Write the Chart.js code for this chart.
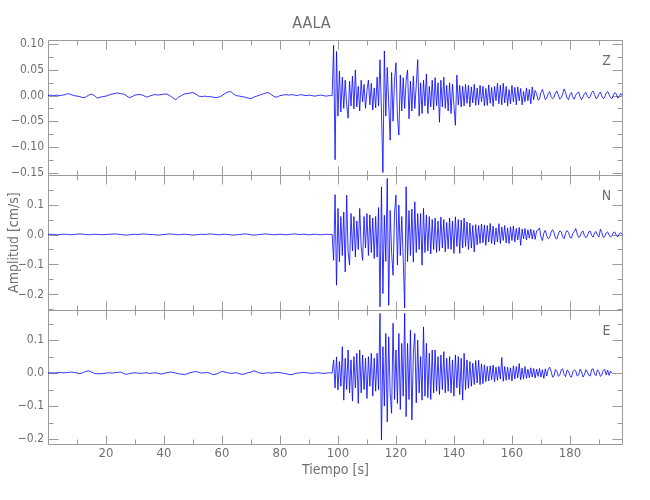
<!DOCTYPE html>
<html>
<head>
<meta charset="utf-8">
<title>AALA</title>
<script src="https://cdn.jsdelivr.net/npm/chart.js"></script>
<style>
  html, body { margin: 0; padding: 0; background: #fff; }
</style>
</head>
<body>
<canvas id="sismo" width="650" height="500"></canvas>
<script>
const FONT = "'Liberation Sans Narrow', 'DejaVu Sans Condensed', 'Liberation Sans', sans-serif";
const textColor = '#6f6f6f';
const axisColor = '#9b9b9b';

// amplitudes are stored in counts of 0.001 cm/s
const UNIT = 0.001;
// quiet part sampled every 1 s from 0 s, event part every 0.5 s from 98 s
const PRE_T0 = 0, PRE_DT = 1;
const EV_T0 = 98, EV_DT = 0.5;

const zPre = [0,1,0,1,0,1,2,4,2,0,
  -1,-2,-4,-3,1,3,0,-5,-3,-2,
  -1,1,3,4,5,4,3,0,-4,-2,
  1,2,2,0,-3,-1,1,2,1,2,
  3,3,0,-4,-8,-3,0,3,4,5,
  6,3,-1,-2,-1,-2,-2,-3,-4,-3,
  0,4,7,8,3,0,-1,-2,-3,-5,
  -6,-3,-1,1,3,5,6,2,-2,-3,
  0,1,2,1,2,1,0,2,1,0,
  1,0,-1,0,1,0,-1,0];
const zEvent = [0,98,-125,86,-40,48,-32,36,-25,30,
  -18,-44,28,-20,38,-26,50,-22,18,-30,
  30,-12,22,-25,10,30,-18,24,-28,15,
  -24,36,-20,70,-30,-150,87,-40,55,-15,
  -87,45,-50,30,64,-40,-77,40,-30,35,
  -25,30,50,-45,28,-30,38,-25,20,70,
  -40,25,-35,30,-20,42,-35,18,-22,30,
  -28,35,-20,25,-52,30,-22,36,-25,20,
  -30,25,-35,22,-20,-58,40,-18,20,-22,
  18,-20,22,-15,20,-22,17,-14,22,-19,
  15,-18,20,-12,18,-20,14,-19,21,-15,
  16,-21,18,-10,24,-16,20,-18,24,-14,
  18,-20,12,-16,20,-12,16,-18,17,-10,
  14,-18,8,-12,15,-10,12,-16,17,-8,
  10,4,-9,-7,6,12,3,-8,-5,4,
  8,-2,-6,-3,5,9,1,-7,-4,3,
  13,6,-5,-8,2,6,-3,-7,1,5,
  7,-2,-8,-3,4,6,-1,-5,-2,6,
  9,2,-6,-4,3,7,-1,-6,-3,5,
  8,2,-4,-6,1,6,3,-5,-2,4,
  0];

const nPre = [0,1,0,-1,0,1,1,0,-1,0,
  1,2,1,0,-1,0,1,0,0,-1,
  0,1,1,2,1,0,-1,-2,-1,0,
  1,0,1,2,1,0,0,-1,-2,-1,
  0,1,2,1,0,-1,0,1,0,-1,
  -2,-1,0,1,0,1,2,1,0,-1,
  0,1,0,-1,-2,-1,0,1,2,1,
  -1,-2,-1,0,1,2,1,0,-1,0,
  1,0,-1,0,1,2,1,0,1,0,
  -1,0,1,0,-1,0,1,0];
const nEvent = [0,-86,133,-169,87,-91,60,-70,75,-125,
  131,-60,-102,70,-55,60,-75,45,-50,87,
  -40,-86,60,-45,70,-70,65,-60,55,-80,
  60,-75,90,-241,159,-197,64,-90,187,-236,
  80,-60,-136,70,131,-102,98,-70,60,-80,
  -245,159,-90,80,-70,85,-92,109,-60,70,
  -50,70,-102,87,-60,65,-55,60,-65,50,
  -50,55,-60,45,-55,58,-45,50,-58,40,
  -48,55,-50,45,-63,59,-40,50,-63,48,
  -45,55,-40,42,-50,38,-45,30,-58,33,
  -35,30,-30,35,-28,32,-36,30,-25,37,
  -30,28,-34,22,-25,36,-30,25,-20,30,
  -28,22,-30,26,-20,28,-25,20,-18,24,
  -36,18,-15,20,-18,16,-12,18,-15,14,
  -16,12,15,22,-8,-20,5,14,-4,-14,
  -10,8,16,6,-12,-15,2,12,9,-8,
  -14,4,13,7,-9,-12,3,10,20,2,
  -10,-6,8,12,-4,-11,-5,9,11,-3,
  -9,6,10,-2,-8,18,6,-10,-7,5,
  9,-2,-9,-4,7,8,-3,-8,1,6,
  0];

const ePre = [0,1,0,1,2,1,1,2,3,2,
  0,-2,1,5,7,3,-1,-2,-2,-1,
  0,1,0,1,2,3,-1,-4,-2,0,
  1,0,-1,0,1,-1,0,1,-1,-3,
  -1,1,3,2,0,-2,-3,-5,-2,1,
  3,5,2,0,1,2,-1,-5,-3,1,
  5,3,1,-1,0,1,-2,-4,-2,1,
  3,7,4,0,-1,0,1,0,1,2,
  1,0,-2,-4,-5,-2,0,1,2,1,
  0,-1,0,1,0,-1,0,1];
const eEvent = [0,40,-45,49,-51,35,-40,80,-82,45,
  -50,70,-60,40,-85,50,-45,60,-92,70,
  -60,55,-50,45,-77,50,-40,60,-70,45,
  -55,60,-50,181,-203,80,-100,120,-148,110,
  -60,-122,151,-80,70,-92,120,-110,90,-70,
  181,-132,90,-80,130,-142,60,120,-90,100,
  -60,50,-82,140,-70,90,-75,60,-80,70,
  -60,70,-55,50,-65,55,-50,65,-60,45,
  -55,50,-60,40,-70,55,-45,50,-65,45,
  -82,60,-50,40,-46,35,-40,30,-35,38,
  -30,39,-35,28,-32,25,-26,20,-24,22,
  -20,24,-26,18,-22,20,-18,47,-25,20,
  -22,18,-20,16,-24,22,-18,20,-15,29,
  -20,15,-18,20,-16,12,-14,16,-12,14,
  -15,12,-10,14,-12,10,-16,13,-9,11,
  18,6,-12,-9,11,5,-10,-6,10,13,
  -4,-11,9,6,-8,-13,4,10,7,-9,
  -6,12,4,-12,-5,10,3,-7,-9,11,
  13,-3,-8,10,4,-10,-6,8,11,-6,
  9,-7,6,0];

const xTicks = [20, 40, 60, 80, 100, 120, 140, 160, 180];
const zTicks = [0.10, 0.05, 0.00, -0.05, -0.10, -0.15];
const nTicks = [0.1, 0.0, -0.1, -0.2];
const eTicks = [0.1, 0.0, -0.1, -0.2];

const X_MIN = 0, X_MAX = 198.3;
const X_MAJOR = 20, X_MINOR = 10;

const panels = [
  { id: 'z', label: 'Z', pre: zPre, ev: zEvent, min: -0.155, max: 0.108, ticks: zTicks, minor: 0.025, digits: 2 },
  { id: 'n', label: 'N', pre: nPre, ev: nEvent, min: -0.252, max: 0.198, ticks: nTicks, minor: 0.05, digits: 1 },
  { id: 'e', label: 'E', pre: ePre, ev: eEvent, min: -0.218, max: 0.191, ticks: eTicks, minor: 0.05, digits: 1 }
];

function toPoints(pre, ev) {
  const a = pre.map((v, i) => ({ x: PRE_T0 + i * PRE_DT, y: v * UNIT }));
  const b = ev.map((v, i) => ({ x: EV_T0 + i * EV_DT, y: v * UNIT }));
  return a.concat(b);
}

function fmt(v, d) {
  return (v < 0 ? '\u2212' : '') + Math.abs(v).toFixed(d);
}

const panelFrames = {
  id: 'panelFrames',
  beforeDatasetsDraw(chart) {
    const { ctx, chartArea, scales } = chart;
    const xs = scales.x;
    const L = Math.round(chartArea.left) + 0.5;
    const R = Math.round(chartArea.right) - 0.5;
    ctx.save();
    ctx.strokeStyle = axisColor;
    ctx.lineWidth = 1;
    panels.forEach(p => {
      const ys = scales[p.id];
      // shared borders land on the same pixel row
      const T = Math.round(ys.top) + 0.5;
      const B = Math.min(Math.round(ys.bottom) + 0.5, Math.round(chartArea.bottom) - 0.5);
      ctx.beginPath();
      ctx.rect(L, T, R - L, B - T);
      for (let t = X_MIN; t <= xs.max; t += X_MINOR) {
        const px = Math.round(xs.getPixelForValue(t)) + 0.5;
        const len = t % X_MAJOR === 0 ? 9 : 5;
        ctx.moveTo(px, T); ctx.lineTo(px, T + len);
        ctx.moveTo(px, B); ctx.lineTo(px, B - len);
      }
      for (let k = Math.ceil(ys.min / p.minor - 1e-6); k * p.minor <= ys.max + 1e-9; k++) {
        const py = Math.round(ys.getPixelForValue(k * p.minor)) + 0.5;
        const len = k % 2 === 0 ? 10 : 5;
        ctx.moveTo(L, py); ctx.lineTo(L + len, py);
        ctx.moveTo(R, py); ctx.lineTo(R - len, py);
      }
      ctx.stroke();
    });
    ctx.restore();
  },
  afterDraw(chart) {
    const { ctx, chartArea, scales } = chart;
    ctx.save();
    ctx.fillStyle = textColor;
    ctx.font = '14px ' + FONT;
    ctx.textAlign = 'center';
    ctx.textBaseline = 'middle';
    panels.forEach(p => {
      ctx.fillText(p.label, chartArea.right - 16.5, scales[p.id].top + 21);
    });
    ctx.restore();
  }
};

const scales = {
  x: {
    type: 'linear',
    position: 'bottom',
    min: X_MIN,
    max: X_MAX,
    grid: { display: false, drawTicks: false },
    border: { display: false },
    afterBuildTicks: s => { s.ticks = xTicks.map(v => ({ value: v })); },
    afterFit: s => { s.height = 55; },
    ticks: { padding: 1, autoSkip: false, maxRotation: 0, color: textColor, font: { size: 13 } },
    title: { display: true, text: 'Tiempo [s]', color: textColor, font: { size: 14 }, padding: { top: 0, bottom: 21 } }
  }
};
// stacked panels: the last one added ends up on top
[...panels].reverse().forEach(p => {
  scales[p.id] = {
    type: 'linear',
    position: 'left',
    stack: 'sismo',
    stackWeight: 1,
    offset: false,
    min: p.min,
    max: p.max,
    grid: { display: false, drawTicks: false },
    border: { display: false },
    afterBuildTicks: s => { s.ticks = p.ticks.map(v => ({ value: v })); },
    afterFit: s => { s.width = 48; },
    ticks: { padding: 4, autoSkip: false, color: textColor, font: { size: 12 }, callback: v => fmt(v, p.digits) },
    title: { display: p.id === 'n', text: 'Amplitud [cm/s]', color: textColor, font: { size: 14 }, padding: { top: 6, bottom: 0 } }
  };
});

Chart.defaults.font.family = FONT;

new Chart(document.getElementById('sismo'), {
  type: 'line',
  data: {
    datasets: panels.map(p => ({
      label: p.label,
      data: toPoints(p.pre, p.ev),
      yAxisID: p.id,
      borderColor: '#0000ff',
      borderWidth: 0.8,
      pointRadius: 0,
      tension: 0,
      fill: false
    }))
  },
  options: {
    responsive: false,
    devicePixelRatio: 1,
    animation: false,
    layout: { padding: { left: 0, right: 27, top: 0, bottom: 0 } },
    scales: scales,
    plugins: {
      legend: { display: false },
      tooltip: { enabled: false },
      title: {
        display: true,
        text: 'AALA',
        color: textColor,
        font: { size: 16, weight: 'normal' },
        padding: { top: 14, bottom: 7 }
      }
    }
  },
  plugins: [panelFrames]
});
</script>
</body>
</html>
